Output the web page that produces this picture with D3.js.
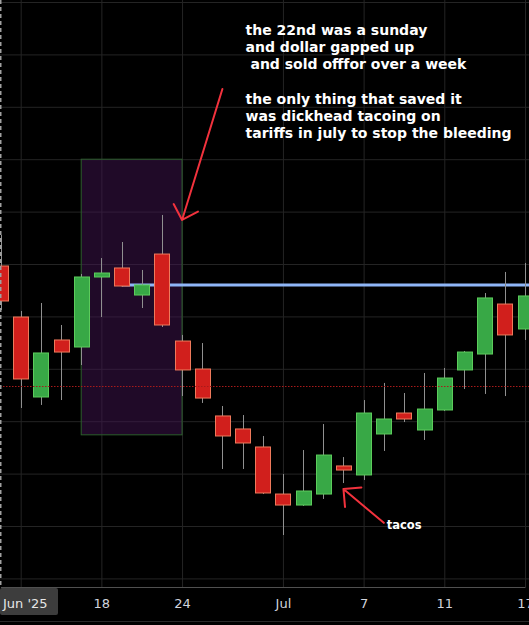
<!DOCTYPE html>
<html>
<head>
<meta charset="utf-8">
<script src="https://cdn.jsdelivr.net/npm/d3@7/dist/d3.min.js"></script>
<style>
    body { margin: 0; background: #000; }
    svg { display: block; }
    .note { font-family: "DejaVu Sans", sans-serif; font-weight: bold; fill: #fff; white-space: pre; }
</style>
</head>
<body>
<div id="chart"></div>
<script>
var width = 529;
var height = 625;
var plotBottom = 587;

// daily candles
var dates = ["Jun 11", "Jun 12", "Jun 13", "Jun 16", "Jun 17", "Jun 18", "Jun 19", "Jun 20", "Jun 23",
    "Jun 24", "Jun 25", "Jun 26", "Jun 27", "Jun 30", "Jul 1", "Jul 2", "Jul 3", "Jul 4", "Jul 7",
    "Jul 8", "Jul 9", "Jul 10", "Jul 11", "Jul 14", "Jul 15", "Jul 16", "Jul 17"];
var opens  = [98.981, 98.494, 97.731, 98.275, 98.208, 98.876, 98.962, 98.704, 99.095,
    98.265, 97.998, 97.550, 97.426, 97.254, 96.805, 96.700, 96.805, 97.073, 96.987,
    97.378, 97.578, 97.416, 97.607, 97.989, 98.141, 98.618, 98.380];
var highs  = [99.277, 98.552, 98.628, 98.418, 98.905, 99.057, 99.210, 98.943, 99.468,
    98.323, 98.246, 97.645, 97.559, 97.359, 96.996, 97.225, 97.473, 97.158, 97.702,
    97.865, 97.769, 97.960, 98.008, 98.170, 98.723, 98.924, 99.010];
var lows   = [98.561, 97.626, 97.655, 97.702, 98.036, 98.494, 98.781, 98.580, 98.399,
    97.740, 97.674, 97.044, 97.044, 96.805, 96.414, 96.691, 96.758, 96.910, 96.939,
    97.216, 97.492, 97.321, 97.597, 97.807, 97.760, 97.740, 98.275];
var closes = [98.647, 97.903, 98.151, 98.160, 98.876, 98.914, 98.790, 98.800, 98.418,
    97.989, 97.721, 97.359, 97.292, 96.815, 96.700, 96.834, 97.177, 97.034, 97.578,
    97.521, 97.521, 97.616, 97.912, 98.160, 98.676, 98.323, 98.695];

var tickDates = ["Jun 12", "Jun 18", "Jun 24", "Jul 1", "Jul 7", "Jul 11", "Jul 17"];
var tickLabels = ["", "18", "24", "Jul", "7", "11", "17"];
var priceTicks = [96, 96.5, 97, 97.5, 98, 98.5, 99, 99.5, 100, 100.5, 101, 101.5];

// drawings
var boxDates = ["Jun 17", "Jun 24"];
var boxPrices = [100.0, 97.37];
var rayStart = "Jun 19";
var rayPrice = 98.80;
var dottedPrice = 97.84;
var arrowBig = [["Jun 26", 100.67], ["Jun 24", 99.42]];
var arrowTacos = [["Jul 8", 96.53], ["Jul 4", 96.853]];
var noteLines = ["the 22nd was a sunday", "and dollar gapped up", " and sold offfor over a week", "",
    "the only thing that saved it", "was dickhead tacoing on", "tariffs in july to stop the bleeding"];

var candles = dates.map(function (d, i) {
    return { date: d, open: opens[i], high: highs[i], low: lows[i], close: closes[i] };
});

var svg = d3.select("#chart")
    .append("svg")
    .attr("width", width)
    .attr("height", height)
    .style("background", "#000");

// scale
var x = d3.scalePoint()
    .domain(dates)
    .range([0.5, 525]);

var y = d3.scaleLinear()
    .domain([96.5, 101.5])
    .range([526, 2]);

var bodyW = x.step() * 0.74;

// grid
svg.append("g")
    .attr("class", "y grid")
    .call(d3.axisRight(y).tickValues(priceTicks).tickSize(width).tickFormat(""))
    .call(g => g.select(".domain").remove())
    .call(g => g.selectAll("line").attr("stroke", "#242424"));

svg.append("g")
    .attr("class", "x grid")
    .attr("transform", "translate(0," + plotBottom + ")")
    .call(d3.axisBottom(x).tickValues(tickDates).tickSize(-plotBottom).tickFormat(""))
    .call(g => g.select(".domain").remove())
    .call(g => g.selectAll("line").attr("stroke", "#242424"));

// highlighted range
svg.append("rect")
    .attr("x", x(boxDates[0]))
    .attr("y", y(boxPrices[0]))
    .attr("width", x(boxDates[1]) - x(boxDates[0]))
    .attr("height", y(boxPrices[1]) - y(boxPrices[0]))
    .attr("fill", "rgba(64,20,80,0.5)")
    .attr("stroke", "#2c5f2c")
    .attr("stroke-width", 1);

// horizontal ray
svg.append("line")
    .attr("x1", x(rayStart))
    .attr("x2", width)
    .attr("y1", y(rayPrice))
    .attr("y2", y(rayPrice))
    .attr("stroke", "#8fb6f7")
    .attr("stroke-width", 3);

// candles
var gc = svg.append("g").attr("class", "candles");

gc.selectAll("line")
    .data(candles)
    .join("line")
    .attr("x1", d => Math.round(x(d.date)) + 0.5)
    .attr("x2", d => Math.round(x(d.date)) + 0.5)
    .attr("y1", d => y(d.high))
    .attr("y2", d => y(d.low))
    .attr("stroke", "#909090")
    .attr("stroke-width", 1);

gc.selectAll("rect")
    .data(candles)
    .join("rect")
    .attr("x", d => Math.round(x(d.date) - bodyW / 2) + 0.5)
    .attr("y", d => y(Math.max(d.open, d.close)))
    .attr("width", Math.round(bodyW))
    .attr("height", d => Math.max(2, Math.abs(y(d.open) - y(d.close))))
    .attr("fill", d => d.close >= d.open ? "#38a846" : "#d11f1c")
    .attr("stroke", d => d.close >= d.open ? "#5ccc5c" : "#ee7a5c")
    .attr("stroke-width", 1);

// dotted level, drawn over the candles
svg.append("line")
    .attr("x1", 0)
    .attr("x2", width)
    .attr("y1", Math.round(y(dottedPrice)) + 0.5)
    .attr("y2", Math.round(y(dottedPrice)) + 0.5)
    .attr("stroke", "#a81a1a")
    .attr("stroke-width", 1)
    .attr("stroke-dasharray", "1.5,1.5");

// left dashed border
svg.append("line")
    .attr("x1", 0.75)
    .attr("x2", 0.75)
    .attr("y1", 0)
    .attr("y2", plotBottom)
    .attr("stroke", "#a0a0a0")
    .attr("stroke-width", 1.5)
    .attr("stroke-dasharray", "4,3");

// arrows
function drawArrow(pts, headLen) {
    var x0 = x(pts[0][0]), y0 = y(pts[0][1]);
    var x1 = x(pts[1][0]), y1 = y(pts[1][1]);
    var ang = Math.atan2(y0 - y1, x0 - x1);
    var a1 = ang - Math.PI / 4, a2 = ang + Math.PI / 4;
    var path = d3.path();
    path.moveTo(x0, y0);
    path.lineTo(x1, y1);
    path.moveTo(x1 + headLen * Math.cos(a1), y1 + headLen * Math.sin(a1));
    path.lineTo(x1, y1);
    path.lineTo(x1 + headLen * Math.cos(a2), y1 + headLen * Math.sin(a2));
    svg.append("path")
        .attr("d", path.toString())
        .attr("fill", "none")
        .attr("stroke", "#f2323d")
        .attr("stroke-width", 2)
        .attr("stroke-linecap", "round")
        .attr("stroke-linejoin", "round");
}
drawArrow(arrowBig, 18);
drawArrow(arrowTacos, 18);

// notes
svg.append("g")
    .selectAll("text")
    .data(noteLines)
    .join("text")
    .attr("class", "note")
    .attr("x", x("Jun 27") + 3)
    .attr("y", (d, i) => 35 + i * 17.2)
    .style("font-size", "14px")
    .text(d => d);

svg.append("text")
    .attr("class", "note")
    .attr("x", x("Jul 8") + 3)
    .attr("y", y(arrowTacos[0][1]) + 6)
    .style("font-size", "11.5px")
    .text("tacos");

// time axis
svg.append("rect")
    .attr("x", 0)
    .attr("y", plotBottom)
    .attr("width", width)
    .attr("height", height - plotBottom)
    .attr("fill", "#000");

var xAxis = svg.append("g")
    .attr("class", "x axis")
    .attr("transform", "translate(0," + plotBottom + ")")
    .call(d3.axisBottom(x).tickValues(tickDates).tickSize(0).tickPadding(12)
        .tickFormat((d, i) => tickLabels[i]));
xAxis.select(".domain").attr("stroke", "#505050");
xAxis.selectAll("text")
    .attr("fill", "#d1d4dc")
    .style("font-family", "DejaVu Sans, sans-serif")
    .style("font-size", "13px");

svg.append("line")
    .attr("x1", 0)
    .attr("x2", width)
    .attr("y1", 621.5)
    .attr("y2", 621.5)
    .attr("stroke", "#2a2a2a");

// month label box
svg.append("rect")
    .attr("x", 0)
    .attr("y", plotBottom + 1)
    .attr("width", 58)
    .attr("height", 27)
    .attr("rx", 2)
    .attr("fill", "#3d3d3d");
svg.append("text")
    .attr("x", 3)
    .attr("y", 608)
    .attr("fill", "#e6e6e6")
    .style("font-family", "DejaVu Sans, sans-serif")
    .style("font-size", "13px")
    .text("Jun '25");
</script>
</body>
</html>
